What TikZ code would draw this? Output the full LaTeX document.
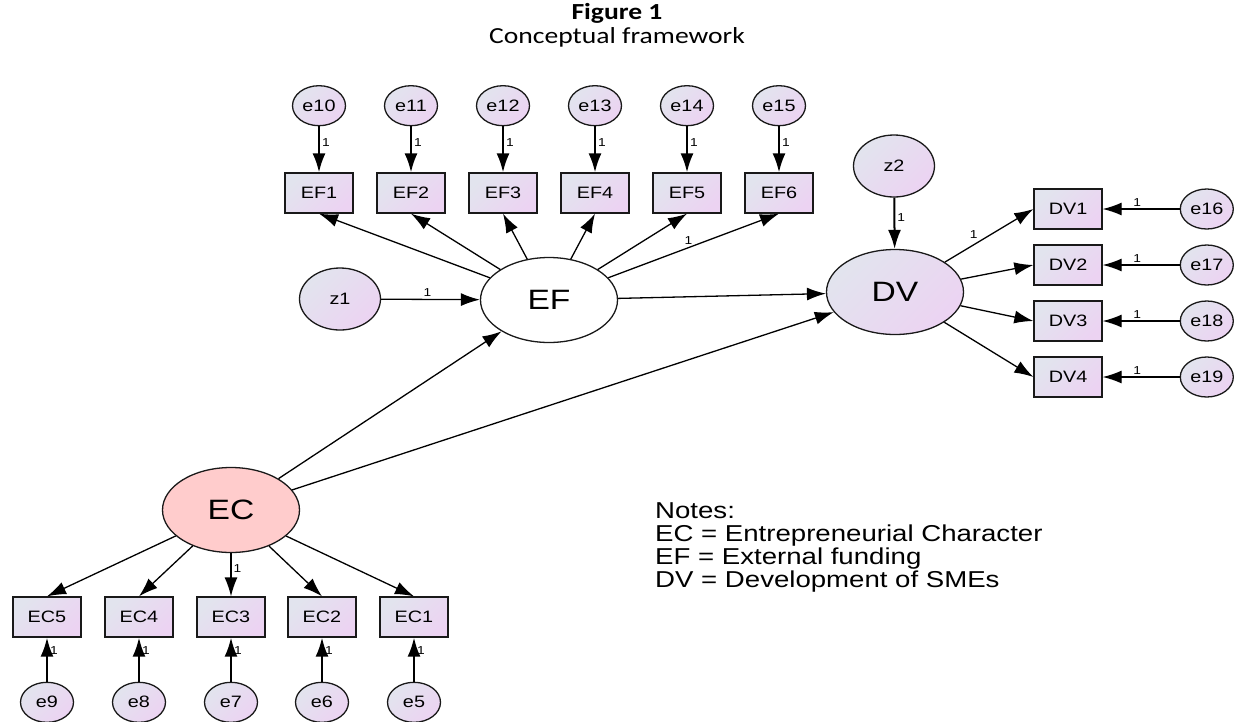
\documentclass[tikz,border=0pt]{standalone}
\usepackage{fontspec}
\setmainfont[FakeStretch=1.2]{Liberation Sans}
\newfontfamily\titlefont[FakeStretch=1.2]{Carlito}
\usetikzlibrary{positioning}
\usetikzlibrary{shapes.geometric}
\usetikzlibrary{arrows.meta}

\begin{document}
\begin{tikzpicture}[x=1pt, y=-1pt]
    \definecolor{shadetl}{HTML}{E2E4EE}
\definecolor{shadebr}{HTML}{ECD3F2}
\definecolor{cause}{HTML}{FFCCCC}
\colorlet{border}{black!90}

\newcommand\efrow{193}
\newcommand\ecrow{617}
\newcommand\dvcol{1068}
\newcommand\errgap{46pt}

\tikzset{
    shaded/.style={
        top color=shadetl, bottom color=shadebr,
        shading angle=45,
    },
    item box/.style={
        draw=border, line width=1.3pt, rectangle, shaded,
        minimum width=68pt, minimum height=40pt,
        inner sep=0pt, font=\fontsize{16.5}{16.5}\selectfont,
    },
    error/.style={
        draw=border, line width=1.3pt, ellipse, shaded,
        minimum width=53pt, minimum height=40pt,
        inner sep=0pt, font=\fontsize{16.5}{16.5}\selectfont,
    },
    disturb/.style={
        error, minimum width=81pt, minimum height=62pt,
    },
    latent/.style={
        draw=border, line width=1.3pt, ellipse,
        minimum width=137pt, minimum height=85pt,
        inner sep=0pt, font=\fontsize{28}{28}\selectfont,
    },
    path/.style={
        line width=1.3pt,
        -{Latex[length=19pt, width=13pt]},
    },
    err path/.style={
        path, line width=2pt,
    },
    one/.style={
        font=\fontsize{11.5}{11.5}\selectfont, inner sep=2pt,
    },
}

\useasboundingbox (0, 0) rectangle (1235, 721);

% title
\node[font=\titlefont\fontsize{23}{23}\selectfont\bfseries] at (617, 13) (fig-no) {Figure 1};
\node[font=\titlefont\fontsize{23}{23}\selectfont] at (617, 37) (fig-title) {Conceptual framework};

% external funding
\node[latent, fill=white] at (549, 300) (ef) {EF};
\node[disturb] at (340, 299) (z-1) {z1};

\node[item box] at (319, \efrow) (ef-1) {EF1};
\node[item box] at (411, \efrow) (ef-2) {EF2};
\node[item box] at (503, \efrow) (ef-3) {EF3};
\node[item box] at (595, \efrow) (ef-4) {EF4};
\node[item box] at (687, \efrow) (ef-5) {EF5};
\node[item box] at (779, \efrow) (ef-6) {EF6};

\node[error, above=\errgap of ef-1] (e-10) {e10};
\node[error, above=\errgap of ef-2] (e-11) {e11};
\node[error, above=\errgap of ef-3] (e-12) {e12};
\node[error, above=\errgap of ef-4] (e-13) {e13};
\node[error, above=\errgap of ef-5] (e-14) {e14};
\node[error, above=\errgap of ef-6] (e-15) {e15};

% development of SMEs
\node[latent, shaded] at (895, 292) (dv) {DV};
\node[disturb] at (894, 166) (z-2) {z2};

\node[item box] at (\dvcol, 209) (dv-1) {DV1};
\node[item box] at (\dvcol, 265) (dv-2) {DV2};
\node[item box] at (\dvcol, 321) (dv-3) {DV3};
\node[item box] at (\dvcol, 377) (dv-4) {DV4};

\node[error, right=77pt of dv-1] (e-16) {e16};
\node[error, right=77pt of dv-2] (e-17) {e17};
\node[error, right=77pt of dv-3] (e-18) {e18};
\node[error, right=77pt of dv-4] (e-19) {e19};

% entrepreneurial character
\node[latent, fill=cause] at (231, 510) (ec) {EC};

\node[item box] at (47, \ecrow) (ec-5) {EC5};
\node[item box] at (139, \ecrow) (ec-4) {EC4};
\node[item box] at (231, \ecrow) (ec-3) {EC3};
\node[item box] at (322, \ecrow) (ec-2) {EC2};
\node[item box] at (414, \ecrow) (ec-1) {EC1};

\node[error, below=44pt of ec-5] (e-9) {e9};
\node[error, below=44pt of ec-4] (e-8) {e8};
\node[error, below=44pt of ec-3] (e-7) {e7};
\node[error, below=44pt of ec-2] (e-6) {e6};
\node[error, below=44pt of ec-1] (e-5) {e5};

% notes
\node[
    anchor=north west, align=left, inner sep=0pt,
    font=\fontsize{23}{23}\selectfont
] at (655, 502) (notes) {Notes:\\
    EC = Entrepreneurial Character\\
    EF = External funding\\
    DV = Development of SMEs};

% paths
\draw[path] (z-1) -- node[one, above, pos=.47] {1} (ef);
\draw[path] (ef) -- (ef-1.south);
\draw[path] (ef) -- (ef-2.south);
\draw[path] (ef) -- (ef-3.south);
\draw[path] (ef) -- (ef-4.south);
\draw[path] (ef) -- (ef-5.south);
\draw[path] (ef) -- node[one, above, pos=.47] {1} (ef-6.south);

\draw[err path] (e-10) -- node[one, right, pos=.35] {1} (ef-1);
\draw[err path] (e-11) -- node[one, right, pos=.35] {1} (ef-2);
\draw[err path] (e-12) -- node[one, right, pos=.35] {1} (ef-3);
\draw[err path] (e-13) -- node[one, right, pos=.35] {1} (ef-4);
\draw[err path] (e-14) -- node[one, right, pos=.35] {1} (ef-5);
\draw[err path] (e-15) -- node[one, right, pos=.35] {1} (ef-6);

\draw[path] (ef) -- (dv);
\draw[err path] (z-2) -- node[one, right, pos=.38] {1} (dv);

\draw[path] (dv) -- node[one, above left, pos=.4] {1} (dv-1.west);
\draw[path] (dv) -- (dv-2.west);
\draw[path] (dv) -- (dv-3.west);
\draw[path] (dv) -- (dv-4.west);

\draw[path] (e-16) -- node[one, above, pos=.55] {1} (dv-1);
\draw[path] (e-17) -- node[one, above, pos=.55] {1} (dv-2);
\draw[path] (e-18) -- node[one, above, pos=.55] {1} (dv-3);
\draw[path] (e-19) -- node[one, above, pos=.55] {1} (dv-4);

\draw[path] (ec) -- (ef);
\draw[path] (ec) -- (dv);

\draw[path] (ec) -- (ec-5.north);
\draw[path] (ec) -- (ec-4.north);
\draw[path] (ec) -- node[one, right, pos=.35] {1} (ec-3.north);
\draw[path] (ec) -- (ec-2.north);
\draw[path] (ec) -- (ec-1.north);

\draw[err path] (e-9) -- node[one, right, pos=.7] {1} (ec-5);
\draw[err path] (e-8) -- node[one, right, pos=.7] {1} (ec-4);
\draw[err path] (e-7) -- node[one, right, pos=.7] {1} (ec-3);
\draw[err path] (e-6) -- node[one, right, pos=.7] {1} (ec-2);
\draw[err path] (e-5) -- node[one, right, pos=.7] {1} (ec-1);
\end{tikzpicture}
\end{document}
